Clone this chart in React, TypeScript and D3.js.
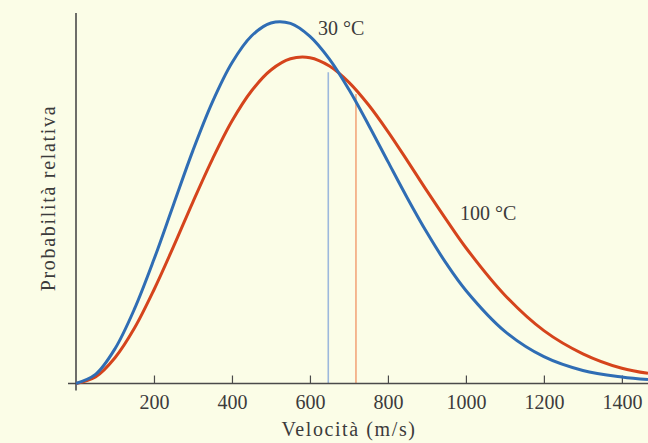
import React, { useEffect, useRef } from "react";
import * as d3 from "d3";

// velocity samples (m/s)
const velocities = [0, 50, 100, 150, 200, 250, 300, 350, 400, 450, 500, 550, 600, 650, 700, 750, 800, 850, 900, 950, 1000, 1100, 1200, 1300, 1400, 1467];
// relative probability, 30 °C curve (peak = 100)
const blue30 = [0, 2.5, 9.6, 20.6, 34.3, 49.4, 64.4, 77.8, 88.6, 96.0, 99.6, 99.5, 95.9, 89.6, 81.2, 71.5, 61.3, 51.2, 41.7, 33.1, 25.7, 14.4, 7.4, 3.6, 1.8, 1.1];
// relative probability, 100 °C curve
const red100 = [0, 1.8, 7.1, 15.3, 25.9, 37.8, 50.2, 62.0, 72.5, 80.8, 86.6, 89.7, 90.0, 87.7, 83.2, 77.0, 69.6, 61.5, 53.2, 45.2, 37.5, 24.4, 14.6, 8.2, 4.2, 2.8];
// root-mean-square speeds marked by thin vertical lines
const rmsSpeeds = [647, 718];
const rmsTops = [86, 80];
const xTicks = [200, 400, 600, 800, 1000, 1200, 1400];

const W = 648;
const H = 443;
const FONT = "'Liberation Serif', 'Times New Roman', serif";
const TEXT = "#3b3b3b";

export default function App() {
  const ref = useRef<SVGSVGElement>(null);

  useEffect(() => {
    if (!ref.current) return;
    const svg = d3.select(ref.current);
    svg.selectAll("*").remove();

    const x = d3.scaleLinear().domain([0, 1467]).range([76, 648]);
    const y = d3.scaleLinear().domain([0, 100]).range([383.5, 21.5]);

    svg.append("rect").attr("width", W).attr("height", H).attr("fill", "#fbfde7");

    // rms markers
    const rmsColors = ["#9db8dc", "#f2a77c"];
    rmsSpeeds.forEach((v, i) => {
      svg
        .append("line")
        .attr("x1", x(v))
        .attr("x2", x(v))
        .attr("y1", y(rmsTops[i]))
        .attr("y2", y(0))
        .attr("stroke", rmsColors[i])
        .attr("stroke-width", 1.6);
    });

    // axes
    const xAxis = svg
      .append("g")
      .attr("transform", `translate(0,${y(0)})`)
      .call(
        d3
          .axisBottom(x)
          .tickValues(xTicks)
          .tickFormat(d3.format("d"))
          .tickSize(-8)
          .tickPadding(11)
          .tickSizeOuter(0)
      );
    xAxis.select(".domain").attr("stroke", "#4a4a4a").attr("stroke-width", 1.6);
    xAxis.selectAll(".tick line").attr("stroke", "#4a4a4a").attr("stroke-width", 1.2);
    xAxis
      .selectAll(".tick text")
      .attr("fill", TEXT)
      .attr("font-family", FONT)
      .attr("font-size", 20)
      .attr("dy", "0.71em");
    xAxis.select(".domain").attr("d", `M${x(0) - 8},0H${W}`);

    svg
      .append("line")
      .attr("x1", x(0))
      .attr("x2", x(0))
      .attr("y1", 13)
      .attr("y2", y(0) + 7)
      .attr("stroke", "#4a4a4a")
      .attr("stroke-width", 1.6);

    // curves
    const pts = (vals: number[]) => velocities.map((v, i) => [v, vals[i]] as [number, number]);
    const line = d3
      .line<[number, number]>()
      .x((d) => x(d[0]))
      .y((d) => y(d[1]))
      .curve(d3.curveCatmullRom);

    svg
      .append("path")
      .attr("d", line(pts(red100)))
      .attr("fill", "none")
      .attr("stroke", "#d5441c")
      .attr("stroke-width", 3);
    svg
      .append("path")
      .attr("d", line(pts(blue30)))
      .attr("fill", "none")
      .attr("stroke", "#2f6db4")
      .attr("stroke-width", 3);

    // labels
    const label = (tx: number, ty: number, s: string) =>
      svg
        .append("text")
        .attr("x", tx)
        .attr("y", ty)
        .attr("fill", TEXT)
        .attr("font-family", FONT)
        .attr("font-size", 20)
        .text(s);
    label(318, 35, "30 °C");
    label(460, 220, "100 °C");

    svg
      .append("text")
      .attr("x", 349)
      .attr("y", 436)
      .attr("text-anchor", "middle")
      .attr("fill", TEXT)
      .attr("font-family", FONT)
      .attr("font-size", 20)
      .attr("letter-spacing", 1.6)
      .text("Velocità (m/s)");

    svg
      .append("text")
      .attr("transform", "translate(55,198) rotate(-90)")
      .attr("text-anchor", "middle")
      .attr("fill", TEXT)
      .attr("font-family", FONT)
      .attr("font-size", 20)
      .attr("letter-spacing", 1.7)
      .text("Probabilità relativa");
  }, []);

  return (
    <div style={{ position: "absolute", left: 0, top: 0 }}>
      <svg ref={ref} width={W} height={H} style={{ display: "block" }} />
    </div>
  );
}
